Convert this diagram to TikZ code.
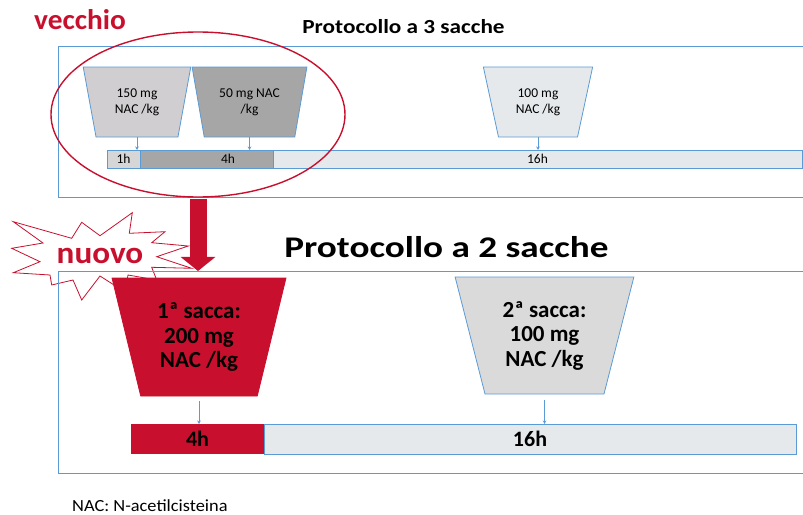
\documentclass[tikz,border=0pt]{standalone}
\usepackage{fontspec}
\setmainfont{Carlito}
\usetikzlibrary{shapes.geometric,arrows.meta}
\definecolor{bl}{RGB}{91,155,213}
\definecolor{rd}{RGB}{200,16,46}
\definecolor{gA}{RGB}{208,206,208}
\definecolor{gB}{RGB}{166,166,166}
\definecolor{gC}{RGB}{230,233,236}
\definecolor{gD}{RGB}{218,218,218}
\definecolor{gE}{RGB}{214,214,214}
\begin{document}
\begin{tikzpicture}[x=1pt,y=-1pt,
  bag/.style={trapezium, shape border rotate=180, trapezium stretches=true,
    draw=bl, line width=0.8pt, inner sep=0pt, outer sep=0pt, align=center},
  smalltxt/.style={font=\fontsize{13.5}{16}\selectfont},
  bigtxt/.style={font=\fontsize{23}{24.5}\selectfont\bfseries},
  seg/.style={rectangle, draw=bl, line width=0.8pt, inner sep=0pt, outer sep=0pt},
  frame/.style={rectangle, draw=bl, line width=0.9pt, inner sep=0pt, outer sep=0pt, anchor=north west},
  conn/.style={draw=bl, line width=0.7pt, -{Stealth[length=3.5pt,width=3.5pt]}},
  bigarrow/.style={draw=rd, line width=17pt, -{Triangle[width=34pt,length=14pt]}},
]
\useasboundingbox (0,0) rectangle (803,514);
\clip (0,0) rectangle (803,514);

% starburst
\draw[rd, line width=0.8pt, fill=white]
  (11.7,248.3) -- (43,243) -- (13.3,221.7) -- (71.7,238.3) -- (81.7,222.3)
  -- (100,235.7) -- (132.3,212.7) -- (129.3,233.3) -- (165,231.7)
  -- (151.7,242.7) -- (188.3,246) -- (156.7,256.7) -- (191.7,268.3)
  -- (151.7,267.3) -- (156.7,280) -- (128,275) -- (125,292) -- (100,276)
  -- (81.7,300) -- (73,280) -- (51.7,285) -- (50,275) -- (13.3,272.7)
  -- (40,261.7) -- cycle;

% frames
\node[frame, minimum width=780, minimum height=151] (f1) at (58.7,46) {};
\node[frame, minimum width=780, minimum height=202] (f2) at (58.7,271) {};

% titles
\node[anchor=base, inner sep=0, text=rd, font=\fontsize{28.5}{30}\selectfont\bfseries] (old) at (80,29) {\scalebox{1.03}[1]{vecchio}};
\node[anchor=base, inner sep=0, font=\fontsize{20}{22}\selectfont\bfseries] (t3) at (403.5,33) {\scalebox{1.16}[1]{Protocollo a 3 sacche}};
\node[anchor=base, inner sep=0, font=\fontsize{30}{32}\selectfont\bfseries] (t2) at (446.5,257) {\scalebox{1.24}[1]{Protocollo a 2 sacche}};
\node[anchor=base, inner sep=0, text=rd, font=\fontsize{31}{32}\selectfont\bfseries] (new) at (100,263.5) {\scalebox{1.07}[1]{nuovo}};
\node[anchor=base west, inner sep=0, font=\fontsize{17}{18}\selectfont] (nac) at (72,511) {\scalebox{1.08}[1]{NAC: N-acetilcisteina}};

% old protocol bags
\node[bag, smalltxt, fill=gA, minimum width=108, minimum height=70, trapezium left angle=75.6, trapezium right angle=75.6] (T1) at (137,102) {150 mg\\NAC /kg};
\node[bag, smalltxt, fill=gB, minimum width=115, minimum height=70, trapezium left angle=73.3, trapezium right angle=73.3] (T2) at (249.5,102) {50 mg NAC\\/kg};
\node[bag, smalltxt, fill=gC, minimum width=110, minimum height=70, trapezium left angle=72.6, trapezium right angle=72.6] (T3) at (538,102) {100 mg\\NAC /kg};

% old timeline
\node[seg, smalltxt, fill=gE, minimum width=33, minimum height=18] (b1) at (123.5,159) {1h};
\node[seg, fill=gB, minimum width=133, minimum height=18] (b2) at (206.5,159) {};
\node[smalltxt, inner sep=0] (b2t) at (228,159) {4h};
\node[seg, smalltxt, fill=gC, minimum width=529, minimum height=18] (b3) at (537.5,159) {16h};

\draw[conn] (T1.south) -- (T1.south |- b1.north);
\draw[conn] (T2.south) -- (T2.south |- b2.north);
\draw[conn] (T3.south) -- (T3.south |- b3.north);

% ellipse
\node[ellipse, draw=rd, line width=1.4pt, minimum width=294, minimum height=165, inner sep=0pt, outer sep=0pt] (ell) at (198,114.5) {};

% new protocol bags
\node[bag, bigtxt, fill=rd, draw=rd, minimum width=174, minimum height=118, trapezium left angle=73.3, trapezium right angle=73.3] (T4) at (199,337) {1ª sacca:\\200 mg\\NAC /kg};
\node[bag, bigtxt, fill=gD, minimum width=179, minimum height=117, trapezium left angle=73, trapezium right angle=73] (T5) at (544.5,335.5) {2ª sacca:\\100 mg\\NAC /kg};

% new timeline
\node[rectangle, inner sep=0pt, outer sep=0pt, fill=rd, font=\fontsize{22}{24}\selectfont\bfseries, minimum width=133, minimum height=30] (c1) at (197.5,439) {4h};
\node[seg, fill=gC, font=\fontsize{22}{24}\selectfont\bfseries, minimum width=532, minimum height=30] (c2) at (530,439) {16h};

\draw[conn, shorten <=5pt] (T4.south) -- (T4.south |- c1.north);
\draw[conn, shorten <=6pt] (T5.south) -- (T5.south |- c2.north);

% big red arrow
\draw[bigarrow, shorten <=2pt, shorten >=7pt] (ell.south) -- (ell.south |- T4.north);
\end{tikzpicture}
\end{document}
